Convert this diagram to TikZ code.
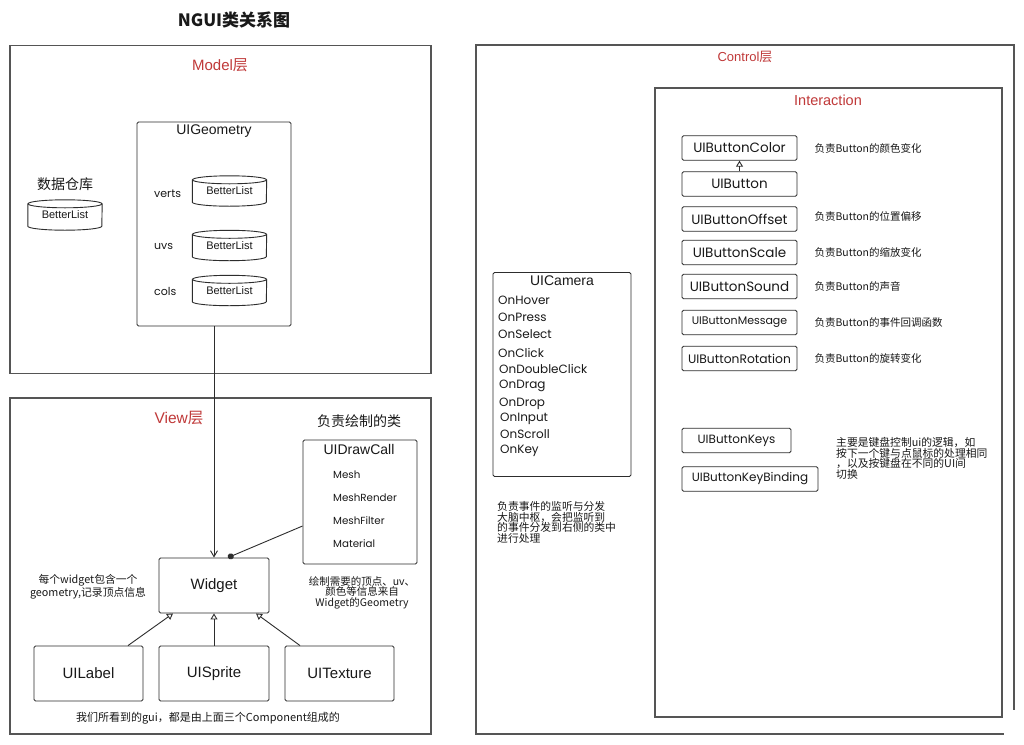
\documentclass[tikz,border=0pt]{standalone}
\usepackage{fontspec}
\setmainfont{Liberation Sans}
\newfontfamily\cjk{Noto Sans CJK SC}
\newfontfamily\geo{Poppins}
\usetikzlibrary{arrows.meta}
\definecolor{ln}{RGB}{45,45,45}
\definecolor{frm}{RGB}{85,85,85}
\definecolor{lay}{RGB}{192,57,57}
\definecolor{txt}{RGB}{25,25,25}
\newcommand\fs[1]{\fontsize{#1}{#1}\selectfont}
\newcommand\dbcyl[1]{%
  \draw[ln,line width=0.9pt] (#1.north west) -- (#1.south west)
     arc[start angle=180,end angle=360,x radius=37pt,y radius=4pt] -- (#1.north east);
  \draw[ln,line width=0.9pt] (#1.north) ellipse[x radius=37pt,y radius=4pt];}
\begin{document}
\begin{tikzpicture}[x=1pt,y=-1pt,
  every node/.style={text=txt},
  layer/.style={draw=frm,line width=1.1pt,inner sep=0pt},
  box/.style={draw=ln,line width=0.9pt,rounded corners=1.5pt,inner sep=0pt},
  btn/.style={box,minimum width=115pt,minimum height=24.5pt,font=\geo\fs{13.5}},
  db/.style={inner sep=0pt,minimum width=74pt,minimum height=22pt,font=\fs{11}},
  red/.style={text=lay},
  desc/.style={font=\cjk\fs{10.5},anchor=west},
  ev/.style={font=\geo\fs{12},anchor=west,inner sep=0pt},
  fld/.style={font=\geo\fs{10.3},anchor=west,inner sep=0pt},
  conn/.style={draw=ln,line width=0.9pt},
  inh/.style={conn,-{Triangle[open,length=6pt,width=7pt]}},
]
\fill[white] (0,0) rectangle (1024,744);
\useasboundingbox (0,0) rectangle (1024,744);

% title
\node[font=\cjk\bfseries\fs{17}] (title) at (234,20) {NGUI类关系图};

% ---------------- Model layer
\node[layer,minimum width=421pt,minimum height=328pt] (model) at (220.5,209.5) {};
\node[red,font=\fs{15}] (modelt) at (220,65) {Model{\cjk 层}};
\node[box,minimum width=154pt,minimum height=204pt] (geom) at (214,224) {};
\node[font=\fs{14}] (geomt) at (214,131) {UIGeometry};
\node[fld,font=\geo\fs{11}] (verts) at (154,194) {verts};
\node[fld,font=\geo\fs{11}] (uvs) at (154,246) {uvs};
\node[fld,font=\geo\fs{11}] (cols) at (154,291) {cols};
\node[db] (bl1) at (229.5,191) {BetterList};
\node[db] (bl2) at (229.5,245.5) {BetterList};
\node[db] (bl3) at (229.5,290.5) {BetterList};
\dbcyl{bl1}\dbcyl{bl2}\dbcyl{bl3}
\node[font=\cjk\fs{14}] (store) at (65,184) {数据仓库};
\node[db] (bl0) at (65,215) {BetterList};
\dbcyl{bl0}

% ---------------- View layer
\node[layer,minimum width=421pt,minimum height=336pt] (view) at (220.5,566) {};
\node[red,font=\fs{15.5}] (viewt) at (179,418) {View{\cjk 层}};
\node[font=\cjk\fs{14}] (drawt) at (359,421) {负责绘制的类};
\node[box,minimum width=114pt,minimum height=124pt] (dc) at (360,502) {};
\node[font=\fs{14}] (dct) at (359,449) {UIDrawCall};
\node[fld] (mesh) at (333,475) {Mesh};
\node[fld] (meshr) at (333,498) {MeshRender};
\node[fld] (meshf) at (333,521) {MeshFilter};
\node[fld] (mat) at (333,544) {Material};
\node[box,minimum width=110pt,minimum height=55pt,font=\fs{15}] (widget) at (214,585.5) {Widget};
\node[box,minimum width=109pt,minimum height=55pt,font=\fs{15}] (uilabel) at (88.5,673.5) {UILabel};
\node[box,minimum width=110pt,minimum height=55pt,font=\fs{15}] (uisprite) at (214,673.5) {UISprite};
\node[box,minimum width=109pt,minimum height=55pt,font=\fs{15}] (uitexture) at (339.5,673.5) {UITexture};
\node[font=\cjk\fs{10.8},align=center] (wnote) at (88,586.5) {每个widget包含一个\\geometry,记录顶点信息};
\node[font=\cjk\fs{10.5},align=center] (dcnote) at (362,592.5) {绘制需要的顶点、uv、\\颜色等信息来自\\Widget的Geometry};
\node[font=\cjk\fs{11}] (gui) at (208,718) {我们所看到的gui，都是由上面三个Component组成的};

\draw[conn,-{Straight Barb[length=6pt,width=7pt]}] (geom.south) -- (widget.north);
\draw[conn,-{Circle[length=6pt]}] ([yshift=-24pt]dc.west) -- ([xshift=14pt]widget.north);
\draw[inh] ([xshift=39.5pt]uilabel.north) -- ([xshift=-41pt]widget.south);
\draw[inh] (uisprite.north) -- (widget.south);
\draw[inh] ([xshift=-39.5pt]uitexture.north) -- ([xshift=42pt]widget.south);

% ---------------- Control layer
\node[layer,minimum width=538pt,minimum height=689pt] (ctrl) at (745,389.5) {};
\node[red,font=\fs{13}] (ctrlt) at (745,57) {Control{\cjk 层}};
\node[layer,minimum width=347pt,minimum height=629pt] (inter) at (828.5,402.5) {};
\node[red,font=\fs{14.5}] (intert) at (828,100) {Interaction};

\node[btn] (bcolor) at (739.5,148) {UIButtonColor};
\node[btn] (button) at (739.5,184) {UIButton};
\node[btn] (boffset) at (739.5,219) {UIButtonOffset};
\node[btn] (bscale) at (739.5,252.5) {UIButtonScale};
\node[btn] (bsound) at (739.5,286.5) {UIButtonSound};
\node[btn,font=\geo\fs{11}] (bmsg) at (739.5,322.5) {UIButtonMessage};
\node[btn,font=\geo\fs{12.3}] (brot) at (739.5,358.5) {UIButtonRotation};
\node[btn,minimum width=109pt,font=\geo\fs{12}] (bkeys) at (736.5,440.5) {UIButtonKeys};
\node[btn,minimum width=136pt,font=\geo\fs{12}] (bkb) at (750,479) {UIButtonKeyBinding};
\draw[inh] (button.north) -- (bcolor.south);

\node[desc] (dcolor) at (811,148) {负责Button的颜色变化};
\node[desc] (doffset) at (811,216) {负责Button的位置偏移};
\node[desc] (dscale) at (811,252) {负责Button的缩放变化};
\node[desc] (dsound) at (811,286) {负责Button的声音};
\node[desc] (dmsg) at (811,322.5) {负责Button的事件回调函数};
\node[desc] (drot) at (811,358) {负责Button的旋转变化};
\node[font=\cjk\fs{10.8},align=left,anchor=north west,inner sep=0pt] (dkeys) at (836,437) {主要是键盘控制ui的逻辑，如\\按下一个键与点鼠标的处理相同\\，以及按键盘在不同的UI间\\切换};

% UICamera
\node[box,minimum width=138pt,minimum height=204pt] (cam) at (562,374.5) {};
\node[font=\fs{14}] (camt) at (562,281) {UICamera};
\node[ev] (e1) at (498,300) {OnHover};
\node[ev] (e2) at (498,317) {OnPress};
\node[ev] (e3) at (498,334.5) {OnSelect};
\node[ev] (e4) at (498,353) {OnClick};
\node[ev] (e5) at (499,369) {OnDoubleClick};
\node[ev] (e6) at (499,386) {OnDrag};
\node[ev] (e7) at (499,404) {OnDrop};
\node[ev] (e8) at (500,418.5) {OnInput};
\node[ev] (e9) at (500,434) {OnScroll};
\node[ev] (e10) at (500,450.5) {OnKey};
\node[font=\cjk\fs{10.8},align=left,anchor=north west,inner sep=0pt] (camnote) at (497,501) {负责事件的监听与分发\\大脑中枢，会把监听到\\的事件分发到右侧的类中\\进行处理};

% cut corner as in the reference
\fill[white] (1003.5,710) rectangle (1024,744);
\end{tikzpicture}
\end{document}
